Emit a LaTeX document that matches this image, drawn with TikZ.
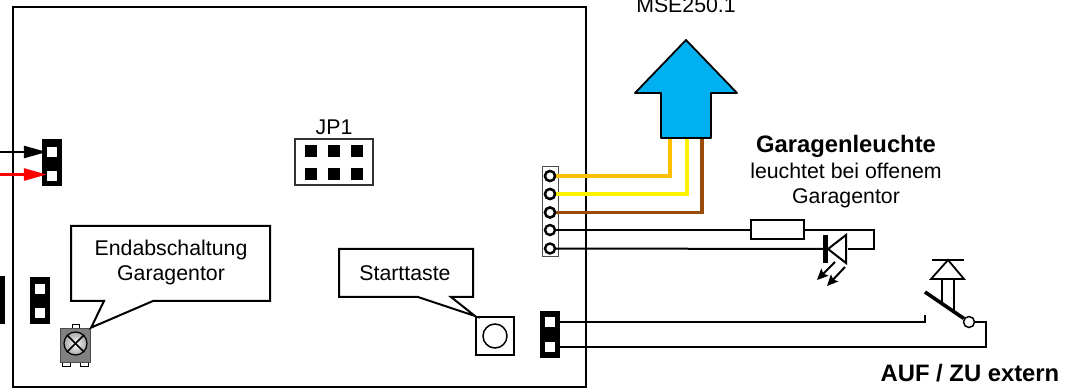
\documentclass[tikz,border=0pt]{standalone}
\usepackage{fontspec}
\setmainfont{Liberation Sans}
\usetikzlibrary{arrows.meta}
\tikzset{
  lbl/.style={inner sep=0pt, align=center, font=\fontsize{21.3}{25}\selectfont},
  lblb/.style={inner sep=0pt, align=center, font=\fontsize{23.8}{28}\selectfont\bfseries},
  block/.style={draw=none, fill=black, inner sep=0pt, minimum width=20pt, minimum height=47pt},
  pad/.style={draw=none, fill=white, inner sep=0pt, minimum size=10pt},
  pin/.style={draw=none, fill=black, inner sep=0pt, minimum size=12pt},
  hole/.style={circle, draw=black, line width=2.4pt, fill=white, inner sep=0pt, minimum size=10pt},
  wire/.style={line width=2pt},
  fatwire/.style={line width=3.6pt},
  tag/.style={line width=2pt, fill=white, line join=miter},
  tab/.style={draw=black, line width=0.8pt, fill=white, inner sep=0pt, minimum width=8pt, minimum height=4pt},
  beam/.style={-{Stealth[length=11pt, width=10pt, inset=2pt]}, line width=2pt},
  feed/.style={-{Triangle[length=23pt, width=12pt]}, line width=2.6pt}
}
\definecolor{mseblue}{RGB}{0,176,240}
\definecolor{wireorange}{RGB}{255,192,0}
\definecolor{wirebrown}{RGB}{153,76,10}
\begin{document}
\begin{tikzpicture}[x=1pt, y=-1pt]
  \useasboundingbox (0,0) rectangle (1077,390);
  \node[draw=black, line width=2pt, inner sep=0pt, minimum width=573pt, minimum height=380pt] (board) at (299,197) {};
  % jumper links
  \node[block] (jpa) at (52,163) {};
  \node[pad] (jpa1) at (52,152) {};
  \node[pad] (jpa2) at (52,176) {};
  \coordinate (ina) at (0,152);
  \coordinate (inb) at (0,174.5);
  \draw[feed] (ina) -- (jpa1.west);
  \draw[feed, red] (inb) -- (jpa2.west |- inb);
  \node[block] (jpb) at (40,300.5) {};
  \node[pad] (jpb1) at (39.5,289) {};
  \node[pad] (jpb2) at (39.5,313) {};
  \node[block] (jpc) at (-5,300) {};
  % JP1
  \node[draw=black!80, line width=1.2pt, inner sep=0pt, minimum width=78pt, minimum height=46pt] (jp) at (334,162) {};
  \node[lbl] (jplbl) at (334,127.5) {JP1};
  \node[pin] (p1) at (311,151) {};
  \node[pin] (p2) at (334,151) {};
  \node[pin] (p3) at (357,151) {};
  \node[pin] (p4) at (311,174) {};
  \node[pin] (p5) at (334,174) {};
  \node[pin] (p6) at (357,174) {};
  % poti
  \node[tab, minimum width=7pt] (tabt) at (75.5,326) {};
  \node[tab] (tabl) at (66,364) {};
  \node[tab] (tabr) at (84,364) {};
  \node[draw=black!70, fill=black!50, line width=0.8pt, inner sep=0pt, minimum width=30.5pt, minimum height=34pt] (poti) at (75.5,345) {};
  \node[circle, draw=black, line width=1.2pt, inner color=white, outer color=black!35, inner sep=0pt, minimum size=23pt] (dial) at (75.5,343.5) {};
  \draw[line width=1.6pt] (dial.north west) -- (dial.south east);
  \draw[line width=1.6pt] (dial.north east) -- (dial.south west);
  % callouts
  \draw[tag] (71,226) -- (270,226) -- (270,301) -- (153,301) -- (poti.north east) -- (104,301) -- (71,301) -- cycle;
  \node[lbl] (endlbl) at (171,262.5) {Endabschaltung\\Garagentor};
  \node[draw=black, line width=2pt, fill=white, inner sep=0pt, minimum size=38pt] (taste) at (495,336) {};
  \node[circle, draw=black, line width=1.5pt, inner sep=0pt, minimum size=24pt] (knopf) at (495,336) {};
  \draw[tag] (339,249) -- (473,249) -- (473,297) -- (451,297) -- (taste.north west) -- (418,297) -- (339,297) -- cycle;
  \node[lbl] (startlbl) at (405,273) {Starttaste};
  % header
  \node[draw=black!70, fill=white, line width=1pt, inner sep=0pt, minimum width=16pt, minimum height=90pt] (hdr) at (550,212) {};
  \node[hole] (h1) at (550,176) {};
  \node[hole] (h2) at (550,194) {};
  \node[hole] (h3) at (550,212.5) {};
  \node[hole] (h4) at (550,230) {};
  \node[hole] (h5) at (550,248.5) {};
  % MSE250.1
  \node[lbl] (mselbl) at (686,5) {MSE250.1};
  \draw[line width=1.8pt, fill=mseblue, line join=round] (686,40) -- (737,93) -- (711,93) -- (711,138) -- (661,138) -- (661,93) -- (635,93) -- cycle;
  \coordinate (msea) at (670,139);
  \coordinate (mseb) at (687,139);
  \coordinate (msec) at (702,139);
  \draw[fatwire, wireorange] (h1) -- (h1 -| msea) -- (msea);
  \draw[fatwire, yellow] (h2) -- (h2 -| mseb) -- (mseb);
  \draw[fatwire, wirebrown] (h3) -- (h3 -| msec) -- (msec);
  \node[hole] at (h1) {};
  \node[hole] at (h2) {};
  \node[hole] at (h3) {};
  % LED
  \node[lblb] (leuchte) at (846,146) {Garagenleuchte};
  \node[lbl] (leuchtelbl) at (846,185.5) {leuchtet bei offenem\\Garagentor};
  \node[draw=black, line width=2pt, fill=white, inner sep=0pt, minimum width=53pt, minimum height=19pt] (res) at (777.5,230) {};
  \coordinate (ka) at (825,249);
  \coordinate (an) at (848,249);
  \coordinate (back) at (874,249);
  \draw[wire] (h4) -- (res);
  \draw[wire] (res) -- (res -| back) -- (back) -- (an);
  \draw[wire] (h5) -- (ka);
  \draw[line width=5pt] (825,235) -- (825,263);
  \draw[line width=2pt, fill=white] (828,249) -- (846,235) -- (846,263) -- cycle;
  \coordinate (la) at (835,262);
  \coordinate (lb) at (817,280);
  \coordinate (lc) at (845,267);
  \coordinate (ld) at (827,286);
  \draw[beam] (la) -- (lb);
  \draw[beam] (lc) -- (ld);
  % AUF / ZU
  \node[block] (jpd) at (550,334.5) {};
  \node[pad] (jpd1) at (550,322) {};
  \node[pad] (jpd2) at (550,347) {};
  \node[circle, draw=black, line width=1.5pt, fill=white, inner sep=0pt, minimum size=11pt] (kontakt) at (969,322) {};
  \coordinate (fest) at (925,322);
  \coordinate (festb) at (925,315);
  \coordinate (ecka) at (986,322);
  \coordinate (eckb) at (986,347);
  \draw[wire] (jpd1.east) -- (fest) -- (festb);
  \draw[wire] (kontakt) -- (ecka) -- (eckb) -- (jpd2.east);
  \coordinate (hebel) at (925,292);
  \draw[line width=1.8pt] (942,279) -- (942,303.5);
  \draw[line width=1.8pt] (954,279) -- (954,311.5);
  \draw[line width=3.6pt] (hebel) -- (kontakt);
  \draw[line width=1.8pt] (948,260) -- (964,279) -- (931,279) -- cycle;
  \draw[line width=2.4pt] (932,260) -- (964,260);
  \node[lblb] (auflbl) at (970,373) {AUF / ZU extern};
\end{tikzpicture}
\end{document}
